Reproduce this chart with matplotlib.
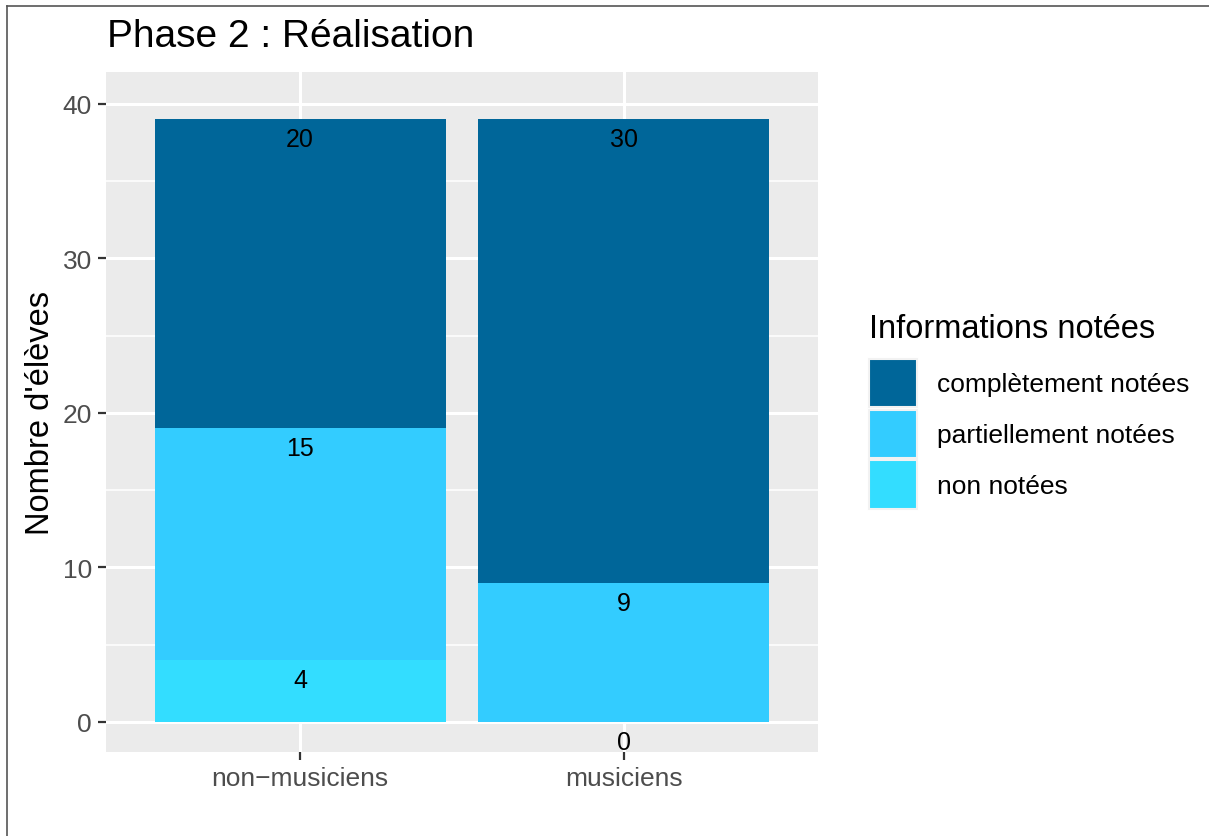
import matplotlib
matplotlib.use("Agg")
import matplotlib.pyplot as plt
from matplotlib.patches import Patch
from matplotlib.lines import Line2D
import numpy as np

plt.rcParams['font.family'] = ['Liberation Sans', 'DejaVu Sans']

groups = ["non\u2212musiciens", "musiciens"]
categories = ["non notées", "partiellement notées", "complètement notées"]  # bottom -> top
non_notees = [4, 0]
partiel_notees = [15, 9]
complet_notees = [20, 30]
colors = {"non notées": "#33DDFF",
          "partiellement notées": "#33CCFF",
          "complètement notées": "#006699"}

W, H = 1209, 837
fig = plt.figure(figsize=(W / 100, H / 100), dpi=100)
fig.patch.set_facecolor("white")

# panel position in pixels
px0, px1, py0, py1 = 106, 818, 73, 753
ax = fig.add_axes([px0 / W, 1 - py1 / H, (px1 - px0) / W, (py1 - py0) / H])
ax.set_facecolor("#EBEBEB")

x = np.arange(1, len(groups) + 1)
series = [non_notees, partiel_notees, complet_notees]
bottom = np.zeros(len(groups))
for name, vals in zip(categories, series):
    vals = np.array(vals, dtype=float)
    ax.bar(x, vals, bottom=bottom, width=0.9, color=colors[name], zorder=2, linewidth=0)
    tops = bottom + vals
    for xi, top, v in zip(x, tops, vals):
        ax.annotate(f"{int(v)}", (xi, top), xytext=(0, -20), textcoords="offset pixels",
                    ha="center", va="center", fontsize=18, color="black", zorder=3)
    bottom = tops

ax.set_xlim(0.4, 2.6)
ax.set_ylim(-1.95, 42.07)
ax.set_xticks(x)
ax.set_xticklabels(groups)
ax.set_yticks([0, 10, 20, 30, 40])
ax.set_yticks([5, 15, 25, 35], minor=True)
ax.grid(which="major", color="white", linewidth=2.2, zorder=0)
ax.grid(which="minor", axis="y", color="white", linewidth=1.1, zorder=0)
ax.set_axisbelow(True)
for s in ax.spines.values():
    s.set_visible(False)
ax.tick_params(axis="both", which="major", length=6, width=1.6, color="#333333",
               labelcolor="#4D4D4D", labelsize=19, pad=4)
ax.tick_params(axis="both", which="minor", length=0)
ax.set_ylabel("Nombre d'élèves", fontsize=23.5, labelpad=4.5)

fig.text(107 / W, 1 - 37 / H, "Phase 2 : Réalisation", fontsize=28, ha="left", va="center")

# legend: title as separate text so the gap to the keys matches
fig.text(869 / W, 1 - 330 / H, "Informations notées", fontsize=23.5, ha="left", va="center")
handles = [Patch(facecolor=colors[c], edgecolor="#F2F2F2", linewidth=1.5)
           for c in reversed(categories)]
leg = fig.legend(handles, list(reversed(categories)),
                 loc="upper left", bbox_to_anchor=(869 / W, 1 - 360 / H),
                 frameon=False, fontsize=19,
                 handlelength=1.82, handleheight=2.45, labelspacing=0.08,
                 handletextpad=0.75, borderpad=0, borderaxespad=0)

# thin border at top and left of the image
fig.add_artist(Line2D([7 / W, 7 / W], [0, 1 - 7 / H], color="#555555", linewidth=1.2))
fig.add_artist(Line2D([7 / W, 1], [1 - 7 / H, 1 - 7 / H], color="#555555", linewidth=1.2))

fig.savefig("out.png", dpi=100)
